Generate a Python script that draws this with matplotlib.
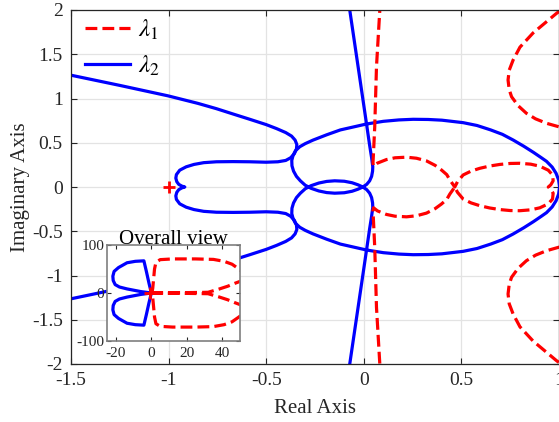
import matplotlib
matplotlib.use("Agg")
import matplotlib.pyplot as plt
from matplotlib.lines import Line2D
import numpy as np

plt.rcParams['font.family'] = ['Liberation Serif', 'DejaVu Serif']
plt.rcParams['mathtext.fontset'] = 'stix'
plt.rcParams['axes.unicode_minus'] = False

# ---------------- data (upper half, w > 0; lower half is the conjugate) -------------
# lambda_2 (blue), outer-left branch ending at the notch near -0.92
b1_x = [-1.56, -1.506, -1.25, -1.003, -0.85, -0.755, -0.67, -0.584, -0.50, -0.447, -0.40,
        -0.37, -0.352, -0.343, -0.345, -0.356, -0.375, -0.40, -0.44, -0.50, -0.584, -0.67,
        -0.755, -0.82, -0.87, -0.91, -0.943, -0.96, -0.963, -0.958, -0.948, -0.932, -0.917]
b1_y = [1.29, 1.266, 1.148, 1.03, 0.945, 0.885, 0.825, 0.765, 0.705, 0.66, 0.615,
        0.575, 0.53, 0.48, 0.43, 0.375, 0.33, 0.30, 0.285, 0.28, 0.285, 0.287,
        0.285, 0.275, 0.255, 0.228, 0.19, 0.14, 0.10, 0.06, 0.03, 0.01, 0.0]
# lambda_2 (blue), near-vertical branch, lens and large loop
b2_x = [-0.09, -0.072, 0.014, 0.030, 0.040, 0.046, 0.045, 0.040, 0.030, 0.015, -0.005,
        -0.03, -0.06, -0.10, -0.149, -0.19, -0.23, -0.27, -0.30, -0.325, -0.345, -0.36,
        -0.368, -0.369, -0.362, -0.35, -0.328, -0.30, -0.26, -0.19, -0.12, 0.014, 0.10,
        0.18, 0.253, 0.33, 0.40, 0.509, 0.58, 0.65, 0.71, 0.765, 0.82, 0.87, 0.91,
        0.936, 0.965, 0.985, 0.998, 1.003]
b2_y = [2.25, 2.0, 0.712, 0.47, 0.33, 0.23, 0.18, 0.12, 0.07, 0.03, 0.0,
        -0.025, -0.048, -0.065, -0.07, -0.063, -0.045, -0.015, 0.02, 0.07, 0.12, 0.18,
        0.24, 0.30, 0.36, 0.41, 0.455, 0.49, 0.53, 0.59, 0.645, 0.712, 0.742,
        0.758, 0.765, 0.763, 0.755, 0.727, 0.695, 0.645, 0.595, 0.531, 0.46, 0.39, 0.33,
        0.29, 0.225, 0.155, 0.08, 0.0]
# lambda_1 (red), near-vertical branch and figure-eight
r1_x = [0.088, 0.082, 0.065, 0.056, 0.050, 0.047, 0.050, 0.070, 0.116, 0.16, 0.219, 0.27,
        0.321, 0.365, 0.398, 0.425, 0.441, 0.455, 0.466, 0.48, 0.509, 0.55, 0.594, 0.645,
        0.697, 0.75, 0.799, 0.855, 0.902, 0.945, 0.967, 0.97, 0.958, 0.945]
r1_y = [2.1, 2.0, 1.36, 0.68, 0.40, 0.27, 0.235, 0.27, 0.31, 0.33, 0.337, 0.325,
        0.295, 0.245, 0.192, 0.14, 0.079, 0.035, 0.0, 0.06, 0.136, 0.18, 0.211, 0.237,
        0.255, 0.266, 0.268, 0.258, 0.235, 0.19, 0.136, 0.07, 0.025, 0.0]
# lambda_1 (red), outer C-shaped branch
r2_x = [1.10, 0.986, 0.867, 0.80, 0.765, 0.745, 0.739, 0.745, 0.757, 0.79, 0.833, 0.88,
        0.936, 1.0, 1.06]
r2_y = [2.15, 1.96, 1.74, 1.58, 1.435, 1.32, 1.209, 1.10, 1.02, 0.92, 0.833, 0.77,
        0.72, 0.68, 0.65]

# overall view (inset)
ov_b_x = [0, -6, -13.7, -18, -20.4, -21.5, -21.7, -21, -18.5, -13.7, -9, -4.2, -2.8, -1.3, 0]
ov_b_y = [0, 3, 8.5, 12.5, 17.5, 26, 35, 45, 53, 63, 66, 67, 45, 20, 0]
ov_ra_x = [0.3, 0.8, 1.3, 1.8, 2.6, 5, 12, 25, 35, 41, 45.5, 49, 53]
ov_ra_y = [0, 10, 30, 50, 64, 69.5, 71, 71, 70, 66, 60, 51, 40]
ov_rb_x = [0, 10, 20, 28, 32, 38, 43, 47, 52]
ov_rb_y = [0, 0.5, 0.8, 1.2, 1.5, 8, 14, 20, 27]

crit_x, crit_y = -1, 0

xticks = [-1.5, -1, -0.5, 0, 0.5, 1]
xticklabels = ['-1.5', '-1', '-0.5', '0', '0.5', '1']
yticks = [-2, -1.5, -1, -0.5, 0, 0.5, 1, 1.5, 2]
yticklabels = ['-2', '-1.5', '-1', '-0.5', '0', '0.5', '1', '1.5', '2']
ov_xticks = [-20, 0, 20, 40]
ov_xticklabels = ['-20', '0', '20', '40']
ov_yticks = [-100, 0, 100]
ov_yticklabels = ['-100', '0', '100']

BLUE = '#0000FF'
RED = '#FF0000'
LW = 2.3


def full(xs, ys):
    xs = np.asarray(xs, float)
    ys = np.asarray(ys, float)
    return (np.concatenate([xs, xs[::-1]]), np.concatenate([ys, -ys[::-1]]))


fig = plt.figure(figsize=(5.59, 4.22), dpi=100)
ax = fig.add_axes([71 / 559, 58 / 422, 488 / 559, 354 / 422])

for xs, ys in [(b1_x, b1_y), (b2_x, b2_y)]:
    fx, fy = full(xs, ys)
    ax.plot(fx, fy, color=BLUE, lw=LW, solid_joinstyle='round')
for xs, ys in [(r1_x, r1_y), (r2_x, r2_y)]:
    fx, fy = full(xs, ys)
    ax.plot(fx, fy, color=RED, lw=LW, ls='--')
ax.plot([crit_x], [crit_y], marker='+', color=RED, ms=8, mew=2, ls='none')

ax.set_xlim(-1.5, 1)
ax.set_ylim(-2, 2)
ax.set_xticks(xticks)
ax.set_xticklabels(xticklabels)
ax.set_yticks(yticks)
ax.set_yticklabels(yticklabels)
ax.grid(True, color='#e3e3e3', lw=0.9)
ax.set_axisbelow(True)
ax.tick_params(direction='in', top=True, right=True, length=4, width=0.8,
               labelsize=14, colors='#262626', pad=6)
for s in ax.spines.values():
    s.set_color('#262626')
    s.set_linewidth(0.9)
ax.set_xlabel('Real Axis', fontsize=15, color='#262626', labelpad=7)
ax.set_ylabel('Imaginary Axis', fontsize=15, color='#262626', labelpad=1)

handles = [Line2D([], [], color=RED, lw=LW, ls='--'),
           Line2D([], [], color=BLUE, lw=LW)]
ax.legend(handles, [r'$\lambda_1$', r'$\lambda_2$'], loc='upper left',
          frameon=False, fontsize=18, handlelength=1.8, handletextpad=0.3,
          labelspacing=0.45, borderaxespad=0.0, borderpad=0.0,
          bbox_to_anchor=(0.029, 0.977))

# inset
ax2 = fig.add_axes([107 / 559, 81 / 422, 133 / 559, 96 / 422])
ax2.set_facecolor('white')
fx, fy = full(ov_b_x, ov_b_y)
ax2.plot(fx, fy, color=BLUE, lw=LW)
for xs, ys in [(ov_ra_x, ov_ra_y), (ov_rb_x, ov_rb_y)]:
    fx, fy = full(xs, ys)
    ax2.plot(fx, fy, color=RED, lw=LW, ls='--')
ax2.plot([crit_x], [crit_y], marker='+', color=RED, ms=8, mew=2, ls='none')
ax2.set_xlim(-25, 50)
ax2.set_ylim(-100, 100)
ax2.set_xticks(ov_xticks)
ax2.set_xticklabels(ov_xticklabels)
ax2.set_yticks(ov_yticks)
ax2.set_yticklabels(ov_yticklabels)
ax2.tick_params(direction='in', top=True, right=True, length=3, width=0.8,
                labelsize=11, colors='#262626', pad=2)
ax2.tick_params(axis='x', pad=4)
for s in ax2.spines.values():
    s.set_color('#7f7f7f')
    s.set_linewidth(1.2)
ax2.set_title('Overall view', fontsize=15, pad=1, color='black')

fig.savefig('out.png', dpi=100)
